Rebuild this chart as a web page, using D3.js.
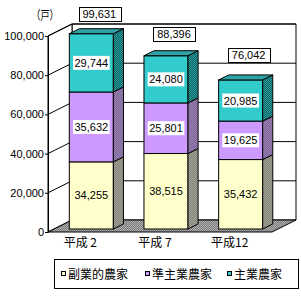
<!DOCTYPE html>
<html>
<head>
<meta charset="utf-8">
<script src="https://cdn.jsdelivr.net/npm/d3@7"></script>
<style>
  body { margin: 0; background: #fff; }
  text { font-family: "Liberation Sans", Arial, sans-serif; font-size: 11px; }
  .jp { font-family: "Noto Sans CJK JP", sans-serif; font-size: 12px; }
</style>
</head>
<body>
<svg id="chart" width="301" height="301"></svg>
<script>
// data
var years = ["平成 2", "平成 7", "平成12"];
var seriesNames = ["副業的農家", "準主業農家", "主業農家"];
var fukugyo = [34255, 38515, 35432];
var junshugyo = [35632, 25801, 19625];
var shugyo = [29744, 24080, 20985];
var totals = [99631, 88396, 76042];
var yTicks = [0, 20000, 40000, 60000, 80000, 100000];
var unitLabel = "（戸）";

// styling
var frontColors = ["#ffffcc", "#cc99ff", "#33cccc"];
var sideA = ["#808080", "#7f6699", "#006666"];
var sideB = ["#a6a68c", "#9980b3", "#339999"];
var topColor = "#2fa3a3";
var totalDy = [-20, -22, -24.5];

var left = 48, right = 272, y0 = 232, yTop = 36;
var depthX = 24, depthY = -12;          // full depth of the 3d box
var frontF = 0.25, backF = 0.67;        // bar position in depth

var svg = d3.select("#chart");
var defs = svg.append("defs");

function checker(id, c1, c2) {
    var p = defs.append("pattern").attr("id", id)
        .attr("width", 2).attr("height", 2).attr("patternUnits", "userSpaceOnUse");
    p.append("rect").attr("width", 2).attr("height", 2).attr("fill", c1);
    p.append("rect").attr("width", 1).attr("height", 1).attr("fill", c2);
    p.append("rect").attr("x", 1).attr("y", 1).attr("width", 1).attr("height", 1).attr("fill", c2);
}
for (let i = 0; i < 3; i++) checker("side" + i, sideA[i], sideB[i]);
checker("floor", "#7a7a7a", "#b0b0b0");

var x = d3.scaleBand().domain(years).range([left, right])
    .paddingInner(0.41).paddingOuter(0.205);
var y = d3.scaleLinear().domain([0, 100000]).range([y0, yTop]);

// walls
var bx = depthX, by = depthY;
svg.append("polygon")
    .attr("points", [[left + bx, y(100000) + by], [right + bx, y(100000) + by],
        [right + bx, y(0) + by], [left + bx, y(0) + by]].join(" "))
    .attr("fill", "#fff").attr("stroke", "#000");
svg.append("polygon")
    .attr("points", [[left, y(100000)], [left + bx, y(100000) + by],
        [left + bx, y(0) + by], [left, y(0)]].join(" "))
    .attr("fill", "#fff").attr("stroke", "#000");

// gridlines
yTicks.slice(1).forEach(function(v) {
    svg.append("line")
        .attr("x1", left + bx).attr("x2", right + bx)
        .attr("y1", y(v) + by).attr("y2", y(v) + by)
        .attr("stroke", "#000");
    svg.append("line")
        .attr("x1", left).attr("x2", left + bx)
        .attr("y1", y(v)).attr("y2", y(v) + by)
        .attr("stroke", "#000");
});

// floor
svg.append("polygon")
    .attr("points", [[left, y(0)], [left + bx, y(0) + by],
        [right + bx, y(0) + by], [right, y(0)]].join(" "))
    .attr("fill", "url(#floor)").attr("stroke", "#000");

// y axis
var yAxis = d3.axisLeft(y).tickValues(yTicks).tickSize(3).tickSizeOuter(0)
    .tickFormat(d3.format(","));
var ag = svg.append("g").attr("transform", "translate(" + left + ",0)").call(yAxis);
ag.select(".domain").attr("stroke", "#000");
ag.selectAll("text").attr("x", -4).attr("fill", "#000")
    .style("font-family", "Liberation Sans, Arial, sans-serif").style("font-size", "11px");

svg.append("text").attr("class", "jp").attr("x", 45).attr("y", 20)
    .attr("text-anchor", "middle").attr("textLength", 27)
    .attr("lengthAdjust", "spacingAndGlyphs").text(unitLabel);

// bars
var rows = years.map(function(yr, i) {
    return {year: yr, a: fukugyo[i], b: junshugyo[i], c: shugyo[i]};
});
var keys = ["a", "b", "c"];
var stack = d3.stack().keys(keys)(rows);

var fx = depthX * frontF, fy = depthY * frontF;
var sx = depthX * (backF - frontF), sy = depthY * (backF - frontF);

years.forEach(function(yr, i) {
    var g = svg.append("g");
    var x0 = x(yr) + fx, x1 = x0 + x.bandwidth();
    stack.forEach(function(s, k) {
        var lo = y(s[i][0]) + fy, hi = y(s[i][1]) + fy;
        g.append("rect").attr("x", x0).attr("y", hi)
            .attr("width", x1 - x0).attr("height", lo - hi)
            .attr("fill", frontColors[k]).attr("stroke", "#000");
        g.append("polygon")
            .attr("points", [[x1, hi], [x1 + sx, hi + sy], [x1 + sx, lo + sy], [x1, lo]].join(" "))
            .attr("fill", "url(#side" + k + ")").attr("stroke", "#000");
        if (k === stack.length - 1) {
            g.append("polygon")
                .attr("points", [[x0, hi], [x0 + sx, hi + sy], [x1 + sx, hi + sy], [x1, hi]].join(" "))
                .attr("fill", topColor).attr("stroke", "#000");
        }
    });
    // value labels drawn after all faces
    stack.forEach(function(s, k) {
        var lo = y(s[i][0]) + fy, hi = y(s[i][1]) + fy;
        var cx = (x0 + x1) / 2, cy = (lo + hi) / 2;
        var t = g.append("text").attr("x", cx).attr("y", cy + 4)
            .attr("text-anchor", "middle").text(d3.format(",")(s[i].data[keys[k]]));
        if (k > 0) {
            var w = t.node().getComputedTextLength();
            g.insert("rect", function() { return t.node(); })
                .attr("x", cx - w / 2 - 1.5).attr("y", cy - 7)
                .attr("width", w + 3).attr("height", 14).attr("fill", "#fff");
        }
    });
    // total
    var tx = (x0 + x1) / 2 + 8, ty = y(totals[i]) + fy + totalDy[i];
    var tt = svg.append("text").attr("x", tx).attr("y", ty + 4)
        .attr("text-anchor", "middle").text(d3.format(",")(totals[i]));
    var tw = tt.node().getComputedTextLength();
    svg.insert("rect", function() { return tt.node(); })
        .attr("x", Math.round(tx - tw / 2 - 4) + 0.5).attr("y", Math.round(ty - 7) + 0.5)
        .attr("width", Math.round(tw + 8)).attr("height", 14)
        .attr("fill", "#fff").attr("stroke", "#000");

    // category label
    svg.append("text").attr("class", "jp")
        .attr("x", x(yr) + x.bandwidth() / 2 - 5).attr("y", 247)
        .attr("text-anchor", "middle").text(yr);
});

// legend
svg.append("rect").attr("x", 54.5).attr("y", 259.5).attr("width", 244).attr("height", 29)
    .attr("fill", "#fff").attr("stroke", "#000");
var legX = [61, 145, 227];
seriesNames.forEach(function(n, k) {
    svg.append("rect").attr("x", legX[k] + 0.5).attr("y", 271.5).attr("width", 4).attr("height", 4)
        .attr("fill", frontColors[k]).attr("stroke", "#000");
    svg.append("text").attr("class", "jp").attr("x", legX[k] + 7).attr("y", 279).text(n);
});
</script>
</body>
</html>
